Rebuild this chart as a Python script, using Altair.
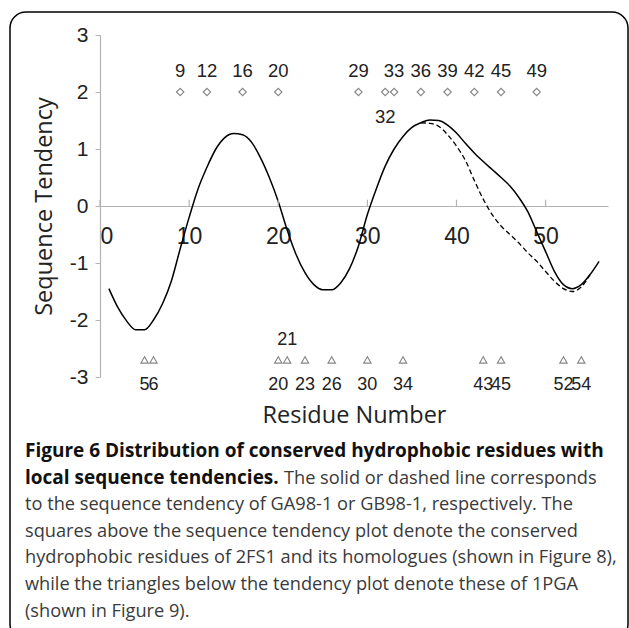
import altair as alt
import pandas as pd

# ---- data ----
residue = list(range(1, 57))
ga98_1 = [-1.45, -1.78, -2.02, -2.17, -2.17, -2.0, -1.72, -1.32, -0.75, -0.2,
          0.3, 0.68, 1.0, 1.2, 1.27, 1.25, 1.12, 0.85, 0.5, 0.08,
          -0.42, -0.85, -1.17, -1.38, -1.47, -1.47, -1.35, -1.1, -0.7, -0.15,
          0.3, 0.7, 1.0, 1.22, 1.38, 1.46, 1.51, 1.5, 1.42, 1.28,
          1.1, 0.93, 0.78, 0.64, 0.5, 0.35, 0.15, -0.1, -0.45, -0.8,
          -1.15, -1.38, -1.45, -1.38, -1.2, -0.97]
gb_residue = list(range(36, 56))
gb98_1 = [1.46, 1.45, 1.4, 1.25, 1.05, 0.8, 0.45, 0.12, -0.15, -0.35,
          -0.5, -0.65, -0.82, -0.97, -1.15, -1.32, -1.45, -1.5, -1.42, -1.2]

fs1_residues = [9, 12, 16, 20, 29, 32, 33, 36, 39, 42, 45, 49]
pga_residues = [5, 6, 20, 21, 23, 26, 30, 34, 43, 45, 52, 54]

x_ticks = [0, 10, 20, 30, 40, 50]
y_ticks = [-3, -2, -1, 0, 1, 2, 3]

caption_bold_1 = "Figure 6 Distribution of conserved hydrophobic residues with"
caption_bold_2 = "local sequence tendencies."
caption_rest_2 = "The solid or dashed line corresponds"
caption_lines = [
    "to the sequence tendency of GA98-1 or GB98-1, respectively. The",
    "squares above the sequence tendency plot denote the conserved",
    "hydrophobic residues of 2FS1 and its homologues (shown in Figure 8),",
    "while the triangles below the tendency plot denote these of 1PGA",
    "(shown in Figure 9).",
]

# ---- tables ----
solid_df = pd.DataFrame({"Residue": residue, "Tendency": ga98_1})
dashed_df = pd.DataFrame({"Residue": gb_residue, "Tendency": gb98_1})
dia_df = pd.DataFrame({"Residue": fs1_residues, "Tendency": [2] * len(fs1_residues),
                       "lab": [str(r) for r in fs1_residues],
                       "ly": [1.57 if r == 32 else 2.36 for r in fs1_residues]})
tri_df = pd.DataFrame({"Residue": pga_residues, "Tendency": [-2.7] * len(pga_residues),
                       "lab": [str(r) for r in pga_residues],
                       "ly": [-2.35 if r == 21 else -3.14 for r in pga_residues]})
tick_df = pd.DataFrame({"Residue": x_ticks, "y0": [0] * 6, "y1": [0.11] * 6})
one = pd.DataFrame({"k": [0]})

W, H = 508, 342
AX = "#b3b3b3"
LAB = "#222222"
NUMFONT = "Liberation Sans"
TFONT = "Open Sans"
CAPFS = 18.2

xs = alt.Scale(domain=[0, 57], nice=False, zero=False)
ys = alt.Scale(domain=[-3, 3], nice=False)

base_x_axis = alt.Axis(values=x_ticks, orient="bottom", offset=-171, tickSize=0,
                       labelPadding=19, labelFontSize=23, labelFont=NUMFONT,
                       labelColor=LAB, domainColor=AX, domainWidth=1.2, grid=False,
                       labelExpr="'' + datum.value",
                       title="Residue Number", titleFont=TFONT, titleFontSize=23.5,
                       titleFontWeight="normal", titleColor=LAB, titlePadding=155)
base_y_axis = alt.Axis(values=y_ticks, tickSize=5, tickColor=AX, domainColor=AX,
                       domainWidth=1.2, labelPadding=7, labelFontSize=21,
                       labelFont=NUMFONT, labelColor=LAB, grid=False,
                       labelExpr="'' + datum.value",
                       title="Sequence Tendency", titleFont=TFONT, titleFontSize=23.5,
                       titleFontWeight="normal", titleColor=LAB, titlePadding=13)

solid = alt.Chart(solid_df).mark_line(color="black", strokeWidth=1.5,
                                      interpolate="monotone").encode(
    x=alt.X("Residue:Q", scale=xs, axis=base_x_axis),
    y=alt.Y("Tendency:Q", scale=ys, axis=base_y_axis),
)
dashed = alt.Chart(dashed_df).mark_line(color="black", strokeWidth=1.3,
                                        strokeDash=[5, 3],
                                        interpolate="monotone").encode(
    x=alt.X("Residue:Q", scale=xs), y=alt.Y("Tendency:Q", scale=ys))

ticks = alt.Chart(tick_df).mark_rule(color=AX, strokeWidth=1.2).encode(
    x=alt.X("Residue:Q", scale=xs), y=alt.Y("y0:Q", scale=ys), y2="y1:Q")

diamonds = alt.Chart(dia_df).mark_point(shape="diamond", filled=False, size=55,
                                        color="#555555", strokeWidth=1.1).encode(
    x=alt.X("Residue:Q", scale=xs), y=alt.Y("Tendency:Q", scale=ys))
dia_labels = alt.Chart(dia_df).mark_text(font=NUMFONT, fontSize=18.5, color=LAB).encode(
    x=alt.X("Residue:Q", scale=xs), y=alt.Y("ly:Q", scale=ys), text="lab:N")

triangles = alt.Chart(tri_df).mark_point(shape="triangle-up", filled=False, size=55,
                                         color="#555555", strokeWidth=1.1).encode(
    x=alt.X("Residue:Q", scale=xs), y=alt.Y("Tendency:Q", scale=ys))
tri_labels = alt.Chart(tri_df).mark_text(font=NUMFONT, fontSize=18, color=LAB).encode(
    x=alt.X("Residue:Q", scale=xs), y=alt.Y("ly:Q", scale=ys), text="lab:N")

# ---- frame and caption ----
frame = alt.Chart(one).mark_rect(fill=None, stroke="black", strokeWidth=1.5,
                                 cornerRadius=16).encode(
    x=alt.value(-90), x2=alt.value(528), y=alt.value(-23), y2=alt.value(605))

CX = -75
cap = []
cap.append(alt.Chart(one).mark_text(font=TFONT, fontSize=19, fontWeight="bold",
                                    color="#111111", align="left",
                                    baseline="alphabetic").encode(
    x=alt.value(CX), y=alt.value(422), text=alt.value(caption_bold_1)))
cap.append(alt.Chart(one).mark_text(font=TFONT, fontSize=19, fontWeight="bold",
                                    color="#111111", align="left",
                                    baseline="alphabetic").encode(
    x=alt.value(CX), y=alt.value(448.5), text=alt.value(caption_bold_2)))
cap.append(alt.Chart(one).mark_text(font=TFONT, fontSize=CAPFS, color="#3a3a3a",
                                    align="left", baseline="alphabetic").encode(
    x=alt.value(184), y=alt.value(448.5), text=alt.value(caption_rest_2)))
for i, line in enumerate(caption_lines):
    cap.append(alt.Chart(one).mark_text(font=TFONT, fontSize=CAPFS, color="#3a3a3a",
                                        align="left", baseline="alphabetic").encode(
        x=alt.value(CX), y=alt.value(475 + 26.7 * i), text=alt.value(line)))

chart = alt.layer(solid, dashed, ticks, diamonds, dia_labels, triangles, tri_labels,
                  frame, *cap).properties(
    width=W, height=H,
    autosize=alt.AutoSizeParams(type="none"),
    padding={"left": 100, "top": 35, "right": 21, "bottom": 251},
    background="white",
).configure_view(stroke=None)

chart.save("out.html", embed_options={"renderer": "svg", "actions": False})
